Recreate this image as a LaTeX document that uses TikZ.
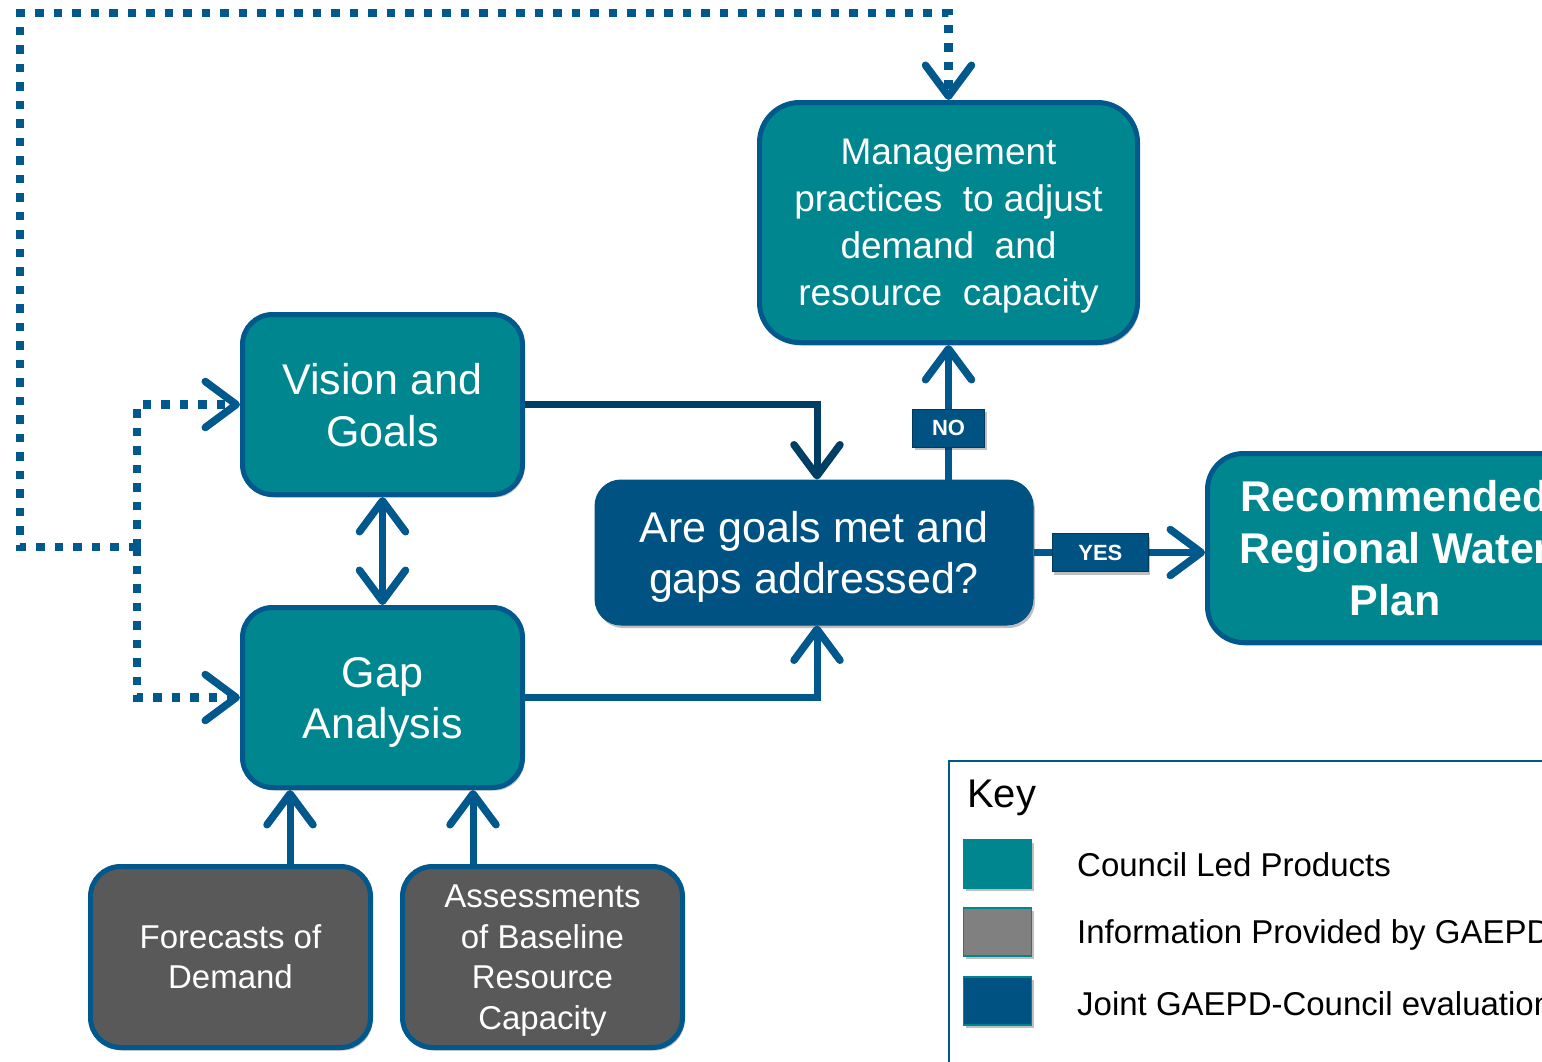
\documentclass[tikz,border=0pt]{standalone}
\usepackage{fontspec}
\setmainfont{Liberation Sans}
\usetikzlibrary{arrows.meta,shadows,calc}
\definecolor{tealfill}{RGB}{0,134,143}
\definecolor{navyfill}{RGB}{0,82,130}
\definecolor{edgeblue}{RGB}{0,88,140}
\definecolor{darkline}{RGB}{0,62,100}
\definecolor{greyfill}{RGB}{89,89,89}
\definecolor{greyswatch}{RGB}{128,128,128}
\newcommand\myfs[2]{\fontsize{#1}{#2}\selectfont}
\begin{document}
\begin{tikzpicture}[x=1pt,y=-1pt,
  every node/.style={inner sep=0pt, align=center},
  shad/.style={drop shadow={opacity=0.25, shadow xshift=2pt, shadow yshift=-3pt, fill=black}},
  box/.style={draw=edgeblue, line width=5pt, rounded corners=30pt, fill=tealfill, text=white, text depth=0pt, shad},
  greybox/.style={box, fill=greyfill},
  decbox/.style={draw=navyfill, line width=1pt, rounded corners=26pt, fill=navyfill, text=white, shad},
  lab/.style={draw=navyfill!70!black, line width=1.2pt, fill=navyfill, text=white, minimum height=38pt, font=\bfseries\myfs{22}{22}, shad},
  tipv/.tip={Straight Barb[length=31pt, width=46pt, line width=7.5pt, round]},
  conn/.style={draw=edgeblue, line width=7pt, -{tipv}},
  dotline/.style={draw=edgeblue, line width=8.5pt, dash pattern=on 8.5pt off 10pt},
  dotarrow/.style={dotline, -{tipv}},
  swatch/.style={draw=tealfill, line width=1.5pt, minimum width=68pt, minimum height=48pt, shad},
  keytext/.style={anchor=west, text=black, font=\myfs{33}{33}}
]
\useasboundingbox (0,0) rectangle (1542,1061);
\clip (0,0) rectangle (1542,1061);

% nodes
\node[box, rounded corners=40pt, minimum width=378pt, minimum height=240pt, font=\myfs{37}{47}] (mgmt) at (948.5,222.5)
  {Management\\practices\ \ to adjust\\demand\ \ and\\resource\ \ capacity};
\node[box, minimum width=280pt, minimum height=180pt, font=\myfs{43}{52}] (vision) at (382.5,404.5) {Vision and\\Goals};
\node[box, minimum width=280pt, minimum height=180pt, font=\myfs{43}{51}] (gap) at (382.5,697.5) {Gap\\Analysis};
\node[decbox, minimum width=438pt, minimum height=145pt, text depth=-8pt, font=\myfs{43}{51}] (decision) at (814,552.5) {Are goals met and\\gaps addressed?};
\node[box, rounded corners=36pt, minimum width=375pt, minimum height=189pt, font=\bfseries\myfs{43}{52}] (rec) at (1395,548) {Recommended\\Regional Water\\Plan};
\node[greybox, minimum width=280pt, minimum height=181pt, font=\myfs{33}{40}] (fore) at (230.5,957) {Forecasts of\\Demand};
\node[greybox, minimum width=280pt, minimum height=181pt, font=\myfs{33}{40.5}] (assess) at (542.5,957) {Assessments\\of Baseline\\Resource\\Capacity};

% helper coordinates
\coordinate (fa) at ($(fore.north)+(59.5,0)$);
\coordinate (aa) at ($(assess.north)+(-69.5,0)$);
\coordinate (vd) at ($(decision.north)+(3,0)$);
\coordinate (gd) at ($(decision.south)+(3,0)$);

% solid connectors
\draw[conn, draw=darkline] (vision.east) -| (vd);
\draw[conn] (gap.east) -| (gd);
\draw[conn, {tipv}-{tipv}] (vision.south) -- (gap.north);
\draw[conn] (fa) -- (fa |- gap.south);
\draw[conn] (aa) -- (aa |- gap.south);
\draw[conn] (decision.north -| mgmt.south) -- node[lab, minimum width=72pt, pos=0.38] (no) {NO} (mgmt.south);
\draw[conn] (decision.east) -- node[lab, minimum width=96pt, pos=0.39] (yes) {YES} (decision.east -| rec.west);

% dotted feedback
\coordinate (dj) at (137,547);
\coordinate (tl) at (20,13);
\draw[dotarrow] (dj) -| (tl) -| (mgmt.north);
\draw[dotarrow] (dj) |- (vision.west);
\draw[dotarrow] (dj) |- (gap.west);

% key
\draw[edgeblue, line width=2pt, fill=white] (949,761) rectangle (1620,1120);
\node[anchor=west, text=black, font=\myfs{40}{40}] (key) at (967,798) {Key};
\node[swatch, fill=tealfill] (s1) at (997.5,864) {};
\node[swatch, fill=greyswatch] (s2) at (997.5,932) {};
\node[swatch, fill=navyfill] (s3) at (997.5,1001) {};
\node[keytext] (k1) at (1077,865) {Council Led Products};
\node[keytext] (k2) at (1077,935) {Information Provided by GAEPD};
\node[keytext] (k3) at (1077,1004) {Joint GAEPD-Council evaluation};
\end{tikzpicture}
\end{document}
